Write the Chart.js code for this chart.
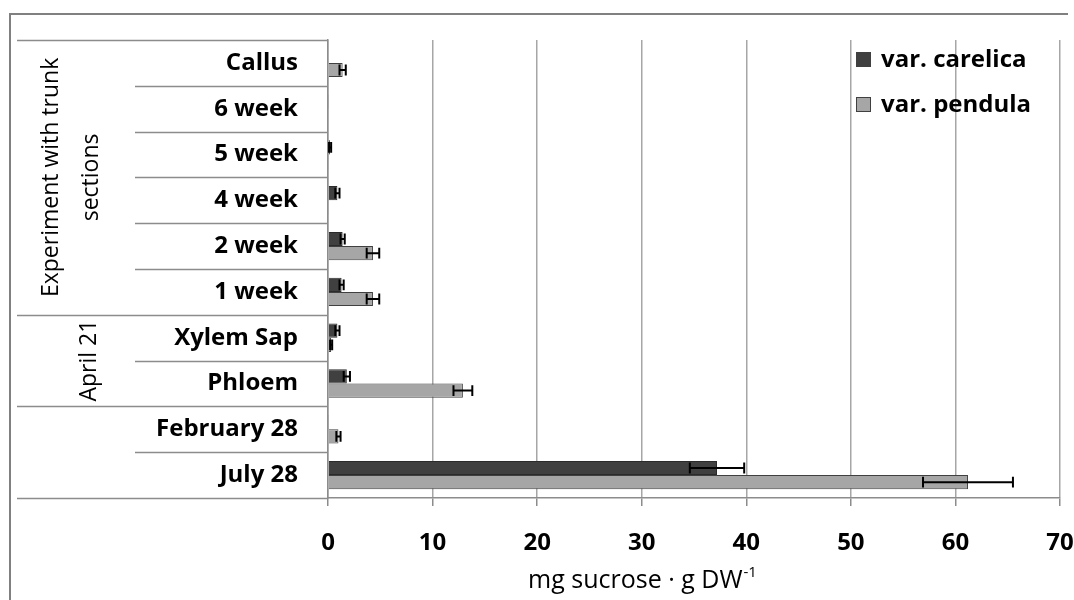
<!DOCTYPE html>
<html>
<head>
<meta charset="utf-8">
<script src="https://cdn.jsdelivr.net/npm/chart.js@4/dist/chart.umd.min.js"></script>
<style>
  html, body { margin: 0; padding: 0; background: #fff; }
  #wrap { width: 1074px; height: 600px; }
</style>
</head>
<body>
<div id="wrap"><canvas id="myChart" width="1074" height="600"></canvas></div>
<script>
// data
const categories = ['Callus', '6 week', '5 week', '4 week', '2 week', '1 week', 'Xylem Sap', 'Phloem', 'February 28', 'July 28'];
const carelica = [0, 0.1, 0.2, 0.9, 1.4, 1.3, 0.9, 1.8, 0.1, 37.2];
const carelicaErr = [0, 0, 0.1, 0.2, 0.2, 0.2, 0.2, 0.3, 0, 2.6];
const pendula = [1.4, 0, 0.1, 0.1, 4.3, 4.3, 0.3, 12.9, 1.0, 61.2];
const pendulaErr = [0.3, 0, 0, 0, 0.6, 0.6, 0.1, 0.9, 0.2, 4.3];
const xTicks = [0, 10, 20, 30, 40, 50, 60, 70];
// groups of categories (first index, last index, label lines)
const groups = [
  { from: 0, to: 5, label: ['Experiment with trunk', 'sections'] },
  { from: 6, to: 7, label: ['April 21'] },
  { from: 8, to: 9, label: [] }
];
const xTitle = 'mg sucrose · g DW';
const xTitleSup = '-1';

const FONT = '"Open Sans", "DejaVu Sans", sans-serif';
const GRID = '#a6a6a6';
const LINE = '#8c8c8c';

// error bars drawn from the bar elements
const errorBars = {
  id: 'errorBars',
  afterDatasetsDraw(chart) {
    const ctx = chart.ctx;
    const x = chart.scales.x;
    const errs = [carelicaErr, pendulaErr];
    ctx.save();
    ctx.strokeStyle = '#000';
    ctx.lineWidth = 2;
    chart.data.datasets.forEach((ds, di) => {
      chart.getDatasetMeta(di).data.forEach((bar, i) => {
        const e = errs[di][i];
        if (!e) return;
        const v = ds.data[i];
        const x1 = x.getPixelForValue(v - e);
        const x2 = x.getPixelForValue(v + e);
        const y = bar.y;
        const h = bar.height * 0.38;
        ctx.beginPath();
        ctx.moveTo(x1, y); ctx.lineTo(x2, y);
        ctx.moveTo(x1, y - h); ctx.lineTo(x1, y + h);
        ctx.moveTo(x2, y - h); ctx.lineTo(x2, y + h);
        ctx.stroke();
      });
    });
    ctx.restore();
  }
};

// multi level category frame, group labels, axis title, legend and outer frame
const frame = {
  id: 'frame',
  afterDraw(chart) {
    const ctx = chart.ctx;
    const y = chart.scales.y;
    const a = chart.chartArea;
    const step = y.getPixelForValue(1) - y.getPixelForValue(0);
    const edge = i => y.getPixelForValue(i) - step / 2;
    const leftOuter = 17, leftInner = 135;
    ctx.save();
    ctx.strokeStyle = LINE;
    ctx.lineWidth = 1.5;
    ctx.beginPath();
    for (let i = 0; i <= categories.length; i++) {
      const py = Math.round(edge(i)) + 0.5;
      const isGroupEdge = i === 0 || i === categories.length || groups.some(g => g.from === i);
      ctx.moveTo(isGroupEdge ? leftOuter : leftInner, py);
      ctx.lineTo(a.left, py);
    }
    ctx.stroke();

    // group labels, rotated
    ctx.fillStyle = '#000';
    ctx.font = '23px ' + FONT;
    ctx.textAlign = 'center';
    ctx.textBaseline = 'middle';
    groups.forEach(g => {
      const cy = (edge(g.from) + edge(g.to + 1)) / 2;
      const n = g.label.length;
      g.label.forEach((t, k) => {
        const cx = n === 1 ? 89 : 51 + k * 40;
        ctx.save();
        ctx.translate(cx, cy);
        ctx.rotate(-Math.PI / 2);
        ctx.fillText(t, 0, 0);
        ctx.restore();
      });
    });

    // x axis title with superscript
    ctx.textAlign = 'left';
    ctx.textBaseline = 'alphabetic';
    ctx.font = '25px ' + FONT;
    const w1 = ctx.measureText(xTitle).width;
    ctx.font = '15px ' + FONT;
    const w2 = ctx.measureText(xTitleSup).width;
    const tx = 642 - (w1 + w2) / 2;
    ctx.font = '25px ' + FONT;
    ctx.fillText(xTitle, tx, 588);
    ctx.font = '15px ' + FONT;
    ctx.fillText(xTitleSup, tx + w1 + 1, 577);

    // legend
    ctx.textBaseline = 'middle';
    ctx.font = 'bold 24px ' + FONT;
    chart.data.datasets.forEach((ds, i) => {
      const ly = 59 + i * 45;
      ctx.fillStyle = ds.backgroundColor;
      ctx.fillRect(856, ly - 7, 15, 15);
      ctx.strokeStyle = '#404040';
      ctx.lineWidth = 1;
      ctx.strokeRect(856.5, ly - 6.5, 14, 14);
      ctx.fillStyle = '#000';
      ctx.fillText(ds.label, 881, ly + 1);
    });

    // outer frame (left and top)
    ctx.strokeStyle = '#808080';
    ctx.lineWidth = 2;
    ctx.beginPath();
    ctx.moveTo(10, 600); ctx.lineTo(10, 14); ctx.lineTo(1068, 14);
    ctx.stroke();
    ctx.restore();
  }
};

const data = {
  labels: categories,
  datasets: [
    { label: 'var. carelica', data: carelica, backgroundColor: '#404040', borderColor: '#2b2b2b', borderWidth: 1 },
    { label: 'var. pendula', data: pendula, backgroundColor: '#a6a6a6', borderColor: '#404040', borderWidth: 1 }
  ]
};

const config = {
  type: 'bar',
  data,
  options: {
    indexAxis: 'y',
    responsive: false,
    animation: false,
    categoryPercentage: 0.62,
    barPercentage: 1,
    layout: { padding: { top: 40, right: 14, left: 0, bottom: 0 } },
    plugins: { legend: { display: false }, tooltip: { enabled: false } },
    scales: {
      x: {
        min: 0, max: 70,
        afterBuildTicks(s) { s.ticks = xTicks.map(v => ({ value: v })); },
        afterFit(s) { s.height = 102; s.paddingLeft = 0; s.paddingRight = 0; },
        grid: { color: GRID, lineWidth: 1.5, tickLength: 8, tickColor: LINE },
        border: { color: LINE, width: 1.5 },
        ticks: { color: '#000', padding: 23, maxRotation: 0, font: { family: FONT, size: 24, weight: 'bold' } }
      },
      y: {
        afterFit(s) { s.width = 328; s.paddingTop = 0; s.paddingBottom = 0; },
        grid: { display: false },
        border: { color: LINE, width: 1.5 },
        ticks: { color: '#000', padding: 22, font: { family: FONT, size: 24, weight: 'bold' } }
      }
    }
  },
  plugins: [errorBars, frame]
};

const ctx = document.getElementById('myChart');
const myChart = new Chart(ctx, config);
</script>
</body>
</html>
